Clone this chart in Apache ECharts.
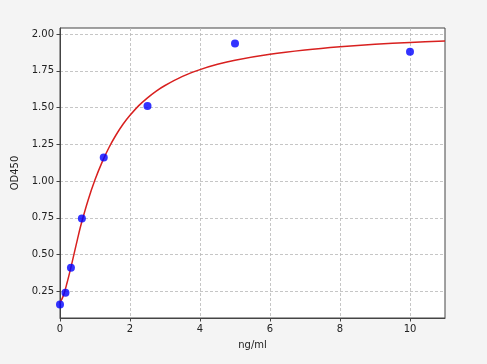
<!DOCTYPE html>
<html><head><meta charset="utf-8">
<script src="https://cdn.jsdelivr.net/npm/echarts@6/dist/echarts.min.js"></script>
<style>html,body{margin:0;padding:0;background:#f4f4f4}#c{width:487px;height:364px}</style>
</head><body><div id="c"></div>
<script>
var pointX = [0, 0.156, 0.3125, 0.625, 1.25, 2.5, 5, 10];
var pointY = [0.16, 0.24, 0.41, 0.745, 1.16, 1.51, 1.935, 1.88];
var curveX = [0, 0.1, 0.2, 0.3, 0.4, 0.5, 0.6, 0.8, 1.0, 1.2, 1.4, 1.6, 1.8, 2.0, 2.25, 2.5, 2.75, 3, 3.5, 4, 4.5, 5, 6, 7, 8, 9, 10, 11];
var curveY = [0.17, 0.222, 0.306, 0.401, 0.503, 0.605, 0.702, 0.868, 1.008, 1.127, 1.228, 1.313, 1.386, 1.447, 1.513, 1.566, 1.612, 1.65, 1.712, 1.758, 1.794, 1.822, 1.862, 1.891, 1.913, 1.93, 1.943, 1.952];
var xTicks = [0, 2, 4, 6, 8, 10];
var yTicks = [0.25, 0.5, 0.75, 1.0, 1.25, 1.5, 1.75, 2.0];

var chart = echarts.init(document.getElementById('c'));
var font = 'DejaVu Sans';
function zip(a, b) { return a.map(function (v, i) { return [v, b[i]]; }); }
chart.setOption({
  backgroundColor: '#f4f4f4',
  animation: false,
  grid: { left: 60, right: 42, top: 28, bottom: 46, show: true, backgroundColor: '#ffffff', borderColor: '#444', borderWidth: 1 },
  xAxis: {
    type: 'value', min: 0, max: 11,
    name: 'ng/ml', nameLocation: 'middle', nameGap: 22,
    nameTextStyle: { fontFamily: font, fontSize: 10, color: '#222' },
    axisLine: { show: true, onZero: false, lineStyle: { color: '#444' } },
    axisTick: { show: true, length: 3.5, customValues: xTicks, lineStyle: { color: '#444' } },
    axisLabel: { customValues: xTicks, fontFamily: font, fontSize: 10, color: '#222', margin: 6 },
    splitLine: { show: true, lineStyle: { color: '#b8b8b8', type: [3, 2], width: 0.8 } }
  },
  yAxis: {
    type: 'value', min: 0.068, max: 2.041,
    name: 'OD450', nameLocation: 'middle', nameGap: 38,
    nameTextStyle: { fontFamily: font, fontSize: 10, color: '#222' },
    axisLine: { show: true, onZero: false, lineStyle: { color: '#444' } },
    axisTick: { show: true, length: 3.5, customValues: yTicks, lineStyle: { color: '#444' } },
    axisLabel: { customValues: yTicks, fontFamily: font, fontSize: 10, color: '#222', margin: 6,
      formatter: function (v) { return v.toFixed(2); } },
    splitLine: { show: true, lineStyle: { color: '#b8b8b8', type: [3, 2], width: 0.8 } }
  },
  series: [
    { type: 'line', data: zip(curveX, curveY), smooth: 0.3, showSymbol: false,
      lineStyle: { color: '#d8201f', width: 1.5 }, z: 2 },
    { type: 'scatter', data: zip(pointX, pointY), symbolSize: 8,
      itemStyle: { color: '#0000ff' }, z: 3 }
  ]
});
</script></body></html>
